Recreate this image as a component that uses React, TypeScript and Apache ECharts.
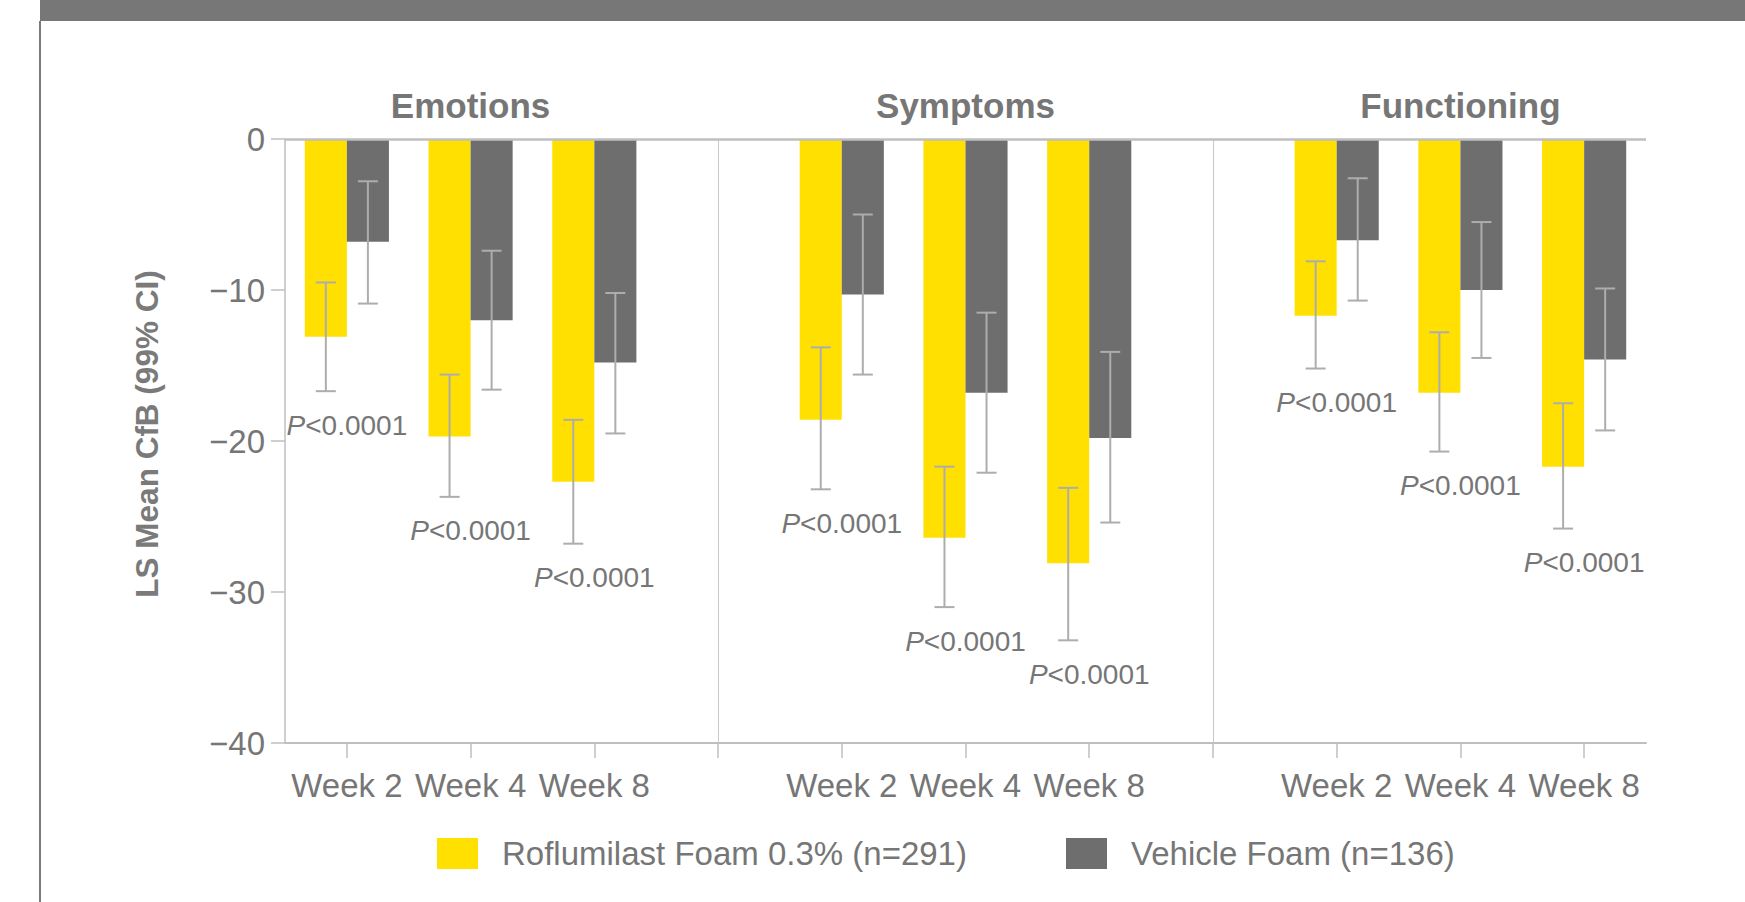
import React, { useEffect, useRef } from "react";
import * as echarts from "echarts";

// ---------- data ----------
const domains = ["Emotions", "Symptoms", "Functioning"];
const weekLabels = ["Week 2", "Week 4", "Week 8"];

const roflumilastName = "Roflumilast Foam 0.3% (n=291)";
const vehicleName = "Vehicle Foam (n=136)";

// LS mean change from baseline, per domain: Week 2, Week 4, Week 8
const roflumilastMean = [
  [-13.1, -19.7, -22.7],
  [-18.6, -26.4, -28.1],
  [-11.7, -16.8, -21.7],
];
const vehicleMean = [
  [-6.8, -12.0, -14.8],
  [-10.3, -16.8, -19.8],
  [-6.7, -10.0, -14.6],
];
// 99% CI lower / upper
const roflumilastLow = [
  [-16.7, -23.7, -26.8],
  [-23.2, -31.0, -33.2],
  [-15.2, -20.7, -25.8],
];
const roflumilastHigh = [
  [-9.5, -15.6, -18.6],
  [-13.8, -21.7, -23.1],
  [-8.1, -12.8, -17.5],
];
const vehicleLow = [
  [-10.9, -16.6, -19.5],
  [-15.6, -22.1, -25.4],
  [-10.7, -14.5, -19.3],
];
const vehicleHigh = [
  [-2.8, -7.4, -10.2],
  [-5.0, -11.5, -14.1],
  [-2.6, -5.5, -9.9],
];
const pValueText = "<0.0001";

const yTicks = { min: -40, max: 0, interval: 10 };
const yAxisTitle = "LS Mean CfB (99% CI)";

// ---------- styles ----------
const FONT = "Liberation Sans";
const YELLOW = "#FFE000";
const DARK = "#6E6E6E";
const TEXT = "#767676";
const AXIS = "#BFBFBF";
const ERR = "#ADADAD";
const BAR_GAP = 0.32;

// ---------- build categories ----------
type Cat = { key: string; label: string; d: number; w: number };
const cats: Cat[] = [];
domains.forEach((dn, d) => {
  weekLabels.forEach((wl, w) => cats.push({ key: `${dn}|${wl}`, label: wl, d, w }));
  if (d < domains.length - 1) cats.push({ key: `gap${d}`, label: "", d: -1, w: -1 });
});
const catKeys = cats.map((c) => c.key);
const gapKeys = cats.filter((c) => c.d < 0).map((c) => c.key);

const barData = (m: number[][]) => cats.map((c) => (c.d < 0 ? "-" : m[c.d][c.w]));
const ciData = (lo: number[][], hi: number[][]) =>
  cats
    .map((c, i) => (c.d < 0 ? null : [i, lo[c.d][c.w], hi[c.d][c.w]]))
    .filter((x) => x !== null);

const errRender = (side: number) => (params: any, api: any) => {
  const idx = api.value(0);
  const lo = api.value(1);
  const hi = api.value(2);
  const bw = (api.size([1, 0])[0] * (1 - BAR_GAP)) / 2;
  const top = api.coord([idx, hi]);
  const bot = api.coord([idx, lo]);
  const x = top[0] + (side * bw) / 2;
  const cap = 10;
  const style = { stroke: ERR, lineWidth: 2 };
  return {
    type: "group",
    children: [
      { type: "line", shape: { x1: x, y1: top[1], x2: x, y2: bot[1] }, style },
      { type: "line", shape: { x1: x - cap, y1: top[1], x2: x + cap, y2: top[1] }, style },
      { type: "line", shape: { x1: x - cap, y1: bot[1], x2: x + cap, y2: bot[1] }, style },
    ],
  };
};

const pData = cats
  .map((c, i) => (c.d < 0 ? null : [i, roflumilastLow[c.d][c.w]]))
  .filter((x) => x !== null);

const titleData = domains.map((dn, d) => [catKeys.indexOf(`${dn}|${weekLabels[1]}`), 0, d]);

export default function App() {
  const ref = useRef<HTMLDivElement>(null);
  useEffect(() => {
    if (!ref.current) return;
    const chart = echarts.init(ref.current, undefined, { renderer: "svg" });
    const legendText = {
      fontFamily: FONT,
      fontSize: 33,
      color: TEXT,
      padding: [0, 0, 0, 19],
    };
    chart.setOption({
      animation: false,
      backgroundColor: "#ffffff",
      textStyle: { fontFamily: FONT },
      grid: { left: 285, right: 99, top: 139, bottom: 159, containLabel: false },
      legend: [
        {
          data: [roflumilastName],
          left: 437,
          top: 837,
          padding: 0,
          itemWidth: 41,
          itemHeight: 31,
          icon: "rect",
          selectedMode: false,
          textStyle: legendText,
        },
        {
          data: [vehicleName],
          left: 1066,
          top: 837,
          padding: 0,
          itemWidth: 41,
          itemHeight: 31,
          icon: "rect",
          selectedMode: false,
          textStyle: legendText,
        },
      ],
      xAxis: {
        type: "category",
        data: catKeys,
        position: "bottom",
        boundaryGap: true,
        axisLine: { onZero: false, lineStyle: { color: AXIS, width: 2 } },
        axisTick: { show: true, alignWithLabel: true, interval: 0, length: 15, lineStyle: { color: AXIS, width: 1.5 } },
        axisLabel: {
          interval: 0,
          margin: 26,
          fontFamily: FONT,
          fontSize: 33,
          color: TEXT,
          formatter: (v: string) => cats[catKeys.indexOf(v)].label,
        },
        splitLine: { show: false },
      },
      yAxis: {
        type: "value",
        min: yTicks.min,
        max: yTicks.max,
        interval: yTicks.interval,
        axisLine: { show: true, lineStyle: { color: AXIS, width: 1.5 } },
        axisTick: { show: true, length: 14, lineStyle: { color: AXIS, width: 1.5 } },
        axisLabel: {
          margin: 20,
          fontFamily: FONT,
          fontSize: 33,
          color: TEXT,
          formatter: (v: number) => String(v).replace("-", "\u2212"),
        },
        splitLine: { show: false },
        name: yAxisTitle,
        nameLocation: "middle",
        nameRotate: 90,
        nameGap: 122,
        nameTextStyle: {
          fontFamily: FONT,
          fontSize: 31.5,
          fontWeight: "bold",
          color: "#7A7A7A",
          padding: [0, 0, 0, 14],
        },
      },
      graphic: [
        { type: "rect", shape: { x: 40, y: 0, width: 1705, height: 21 }, style: { fill: "#777777" }, silent: true },
        { type: "line", shape: { x1: 40, y1: 21, x2: 40, y2: 902 }, style: { stroke: "#7A7A7A", lineWidth: 2 }, silent: true },
      ],
      series: [
        {
          name: roflumilastName,
          type: "bar",
          data: barData(roflumilastMean),
          itemStyle: { color: YELLOW },
          barGap: "0%",
          barCategoryGap: `${BAR_GAP * 100}%`,
          z: 2,
        },
        {
          name: vehicleName,
          type: "bar",
          data: barData(vehicleMean),
          itemStyle: { color: DARK },
          barGap: "0%",
          barCategoryGap: `${BAR_GAP * 100}%`,
          z: 2,
        },
        {
          name: "roflumilast CI",
          type: "custom",
          data: ciData(roflumilastLow, roflumilastHigh),
          encode: { x: 0, y: [1, 2] },
          renderItem: errRender(-1),
          z: 4,
          silent: true,
        },
        {
          name: "vehicle CI",
          type: "custom",
          data: ciData(vehicleLow, vehicleHigh),
          encode: { x: 0, y: [1, 2] },
          renderItem: errRender(1),
          z: 4,
          silent: true,
        },
        {
          name: "p values",
          type: "custom",
          data: pData,
          encode: { x: 0, y: 1 },
          z: 4,
          silent: true,
          renderItem: (params: any, api: any) => {
            const p = api.coord([api.value(0), api.value(1)]);
            return {
              type: "text",
              x: p[0],
              y: p[1] + 34,
              style: {
                text: `{i|P}${pValueText}`,
                align: "center",
                verticalAlign: "middle",
                fontFamily: FONT,
                fontSize: 28,
                fill: TEXT,
                rich: { i: { fontStyle: "italic", fontFamily: FONT, fontSize: 28, fill: TEXT } },
              },
            };
          },
        },
        {
          name: "domain titles",
          type: "custom",
          data: titleData,
          encode: { x: 0, y: 1 },
          z: 4,
          silent: true,
          markLine: {
            silent: true,
            symbol: "none",
            label: { show: false },
            data: [
              ...gapKeys.map((k) => ({ xAxis: k, lineStyle: { color: "#C8C8C8", width: 1, type: "solid" } })),
              { yAxis: 0, lineStyle: { color: AXIS, width: 2.5, type: "solid" } },
            ],
          },
          renderItem: (params: any, api: any) => {
            const p = api.coord([api.value(0), api.value(1)]);
            return {
              type: "text",
              x: p[0],
              y: p[1] - 34,
              style: {
                text: domains[api.value(2)],
                align: "center",
                verticalAlign: "middle",
                fontFamily: FONT,
                fontSize: 35,
                fontWeight: "bold",
                fill: TEXT,
              },
            };
          },
        },
      ],
    });
    return () => chart.dispose();
  }, []);
  return <div ref={ref} style={{ position: "absolute", left: 0, top: 0, width: 1745, height: 902 }} />;
}
